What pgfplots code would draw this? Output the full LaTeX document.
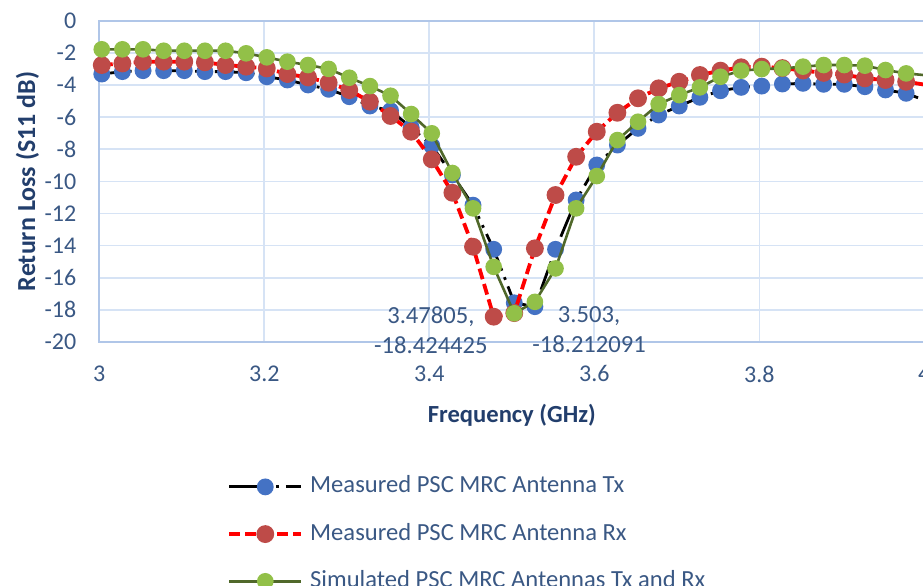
\documentclass[border=0pt]{standalone}
\usepackage{fontspec}
\setmainfont{Carlito}
\usepackage{pgfplots}
\usepackage{pgfplotstable}
\pgfplotsset{compat=1.18}
\usetikzlibrary{calc}

\definecolor{tickblue}{RGB}{58,88,132}
\definecolor{titleblue}{RGB}{34,62,108}
\definecolor{gridblue}{RGB}{214,227,245}
\definecolor{axisblue}{RGB}{176,198,232}
\definecolor{txblue}{RGB}{68,114,196}
\definecolor{rxred}{RGB}{190,75,72}
\definecolor{simgreen}{RGB}{146,192,72}
\definecolor{simline}{RGB}{80,104,42}

% frequency (GHz), measured Tx, measured Rx, simulated (S11 dB)
\pgfplotstableread{
f        tx      rx          sim
3.003   -3.32   -2.76       -1.78
3.028   -3.17   -2.66       -1.78
3.053   -3.11   -2.55       -1.78
3.078   -3.11   -2.55       -1.87
3.103   -3.11   -2.55       -1.87
3.128   -3.17   -2.59       -1.87
3.153   -3.17   -2.76       -1.87
3.178   -3.24   -2.86       -2.03
3.203   -3.49   -2.97       -2.28
3.228   -3.69   -3.32       -2.55
3.253   -4.00   -3.53       -2.76
3.278   -4.27   -3.86       -3.00
3.303   -4.73   -4.32       -3.55
3.328   -5.31   -5.04       -4.07
3.353   -5.60   -5.93       -4.67
3.378   -6.64   -6.91       -5.81
3.403   -7.78   -8.63       -7.01
3.428   -9.60   -10.71      -9.48
3.453   -11.48  -14.07      -11.68
3.47805 -14.23  -18.424425  -15.32
3.503   -17.56  -18.20      -18.212091
3.528   -17.80  -14.17      -17.50
3.553   -14.23  -10.85      -15.42
3.578   -11.16  -8.47       -11.68
3.603   -8.98   -6.91       -9.67
3.628   -7.74   -5.73       -7.43
3.653   -6.70   -4.83       -6.29
3.678   -5.87   -4.21       -5.19
3.703   -5.31   -3.80       -4.63
3.728   -4.77   -3.38       -4.15
3.753   -4.36   -3.11       -3.49
3.778   -4.15   -2.90       -3.11
3.803   -4.07   -2.86       -3.01
3.828   -3.94   -2.95       -2.97
3.853   -3.90   -3.10       -2.86
3.878   -3.96   -3.25       -2.76
3.903   -3.96   -3.35       -2.76
3.928   -4.11   -3.59       -2.80
3.953   -4.31   -3.69       -3.07
3.978   -4.52   -3.80       -3.28
4.003   -5.00   -4.00       -3.40
}\data

\begin{document}
\begin{tikzpicture}
\begin{axis}[
  width=412.5pt, height=160.65pt, scale only axis,
  xmin=3, xmax=4, ymin=-20, ymax=0,
  clip mode=individual,
  xtick={3,3.2,3.4,3.6,3.8,4},
  ytick={-20,-18,-16,-14,-12,-10,-8,-6,-4,-2,0},
  grid=major, major grid style={draw=gridblue, line width=0.8pt},
  axis line style={draw=axisblue, line width=1pt},
  major tick length=0pt,
  tick label style={font=\fontsize{12}{14}\selectfont, text=tickblue},
  /pgf/number format/assume math mode=true,
  yticklabel style={xshift=-8pt},
  xticklabel style={yshift=-8.3pt},
  xlabel={\textbf{Frequency (GHz)}},
  ylabel={\textbf{Return Loss (S11 dB)}},
  label style={text=titleblue},
  xlabel style={font=\fontsize{12.3}{14}\selectfont,
    at={(axis description cs:0.5,-0.227)}, anchor=center},
  ylabel style={font=\fontsize{13}{15}\selectfont,
    at={(axis description cs:-0.087,0.5)}, anchor=center},
  legend style={at={(axis description cs:0.1475,-0.403)}, anchor=north west,
    draw=none, fill=none, font=\fontsize{12.3}{14}\selectfont, text=tickblue,
    row sep=12.6pt, column sep=3.5pt,
    nodes={inner sep=0pt, text height=8.5pt, text depth=2.5pt}},
  legend cell align=left,
  legend image code/.code={\draw[mark repeat=2, mark phase=2, #1]
    plot coordinates {(0pt,0pt) (18pt,0pt) (36pt,0pt)};},
]
\addplot[black, line width=1.4pt,
  dash pattern=on 15pt off 3.5pt on 1.4pt off 3.5pt on 1.4pt off 3.5pt,
  mark=*, mark size=3.5pt, mark options={solid, draw=txblue, fill=txblue}]
  table[x=f, y=tx] {\data};
\addlegendentry{Measured PSC MRC Antenna Tx}
\addplot[red, line width=1.9pt, dash pattern=on 5.5pt off 2.5pt,
  mark=*, mark size=3.5pt, mark options={solid, draw=rxred, fill=rxred}]
  table[x=f, y=rx] {\data};
\addlegendentry{Measured PSC MRC Antenna Rx}
\addplot[simline, line width=1.3pt,
  mark=*, mark size=3.5pt, mark options={solid, draw=simgreen, fill=simgreen}]
  table[x=f, y=sim] {\data};
\addlegendentry{Simulated PSC MRC Antennas Tx and Rx}

\node[align=center, font=\fontsize{12.3}{15}\selectfont, text=tickblue,
  xshift=-31.4pt, yshift=-6.7pt] at (axis cs:3.47805,-18.424425)
  {3.47805,\\-18.424425};
\node[align=center, font=\fontsize{12.3}{15}\selectfont, text=tickblue,
  xshift=37.4pt, yshift=-8.4pt] at (axis cs:3.503,-18.212091)
  {3.503,\\-18.212091};
\end{axis}
\pgfresetboundingbox
\path ($(current axis.south west)+(-49.65pt,-121.5pt)$)
  rectangle ($(current axis.south west)+(411.85pt,171pt)$);
\end{tikzpicture}
\end{document}
